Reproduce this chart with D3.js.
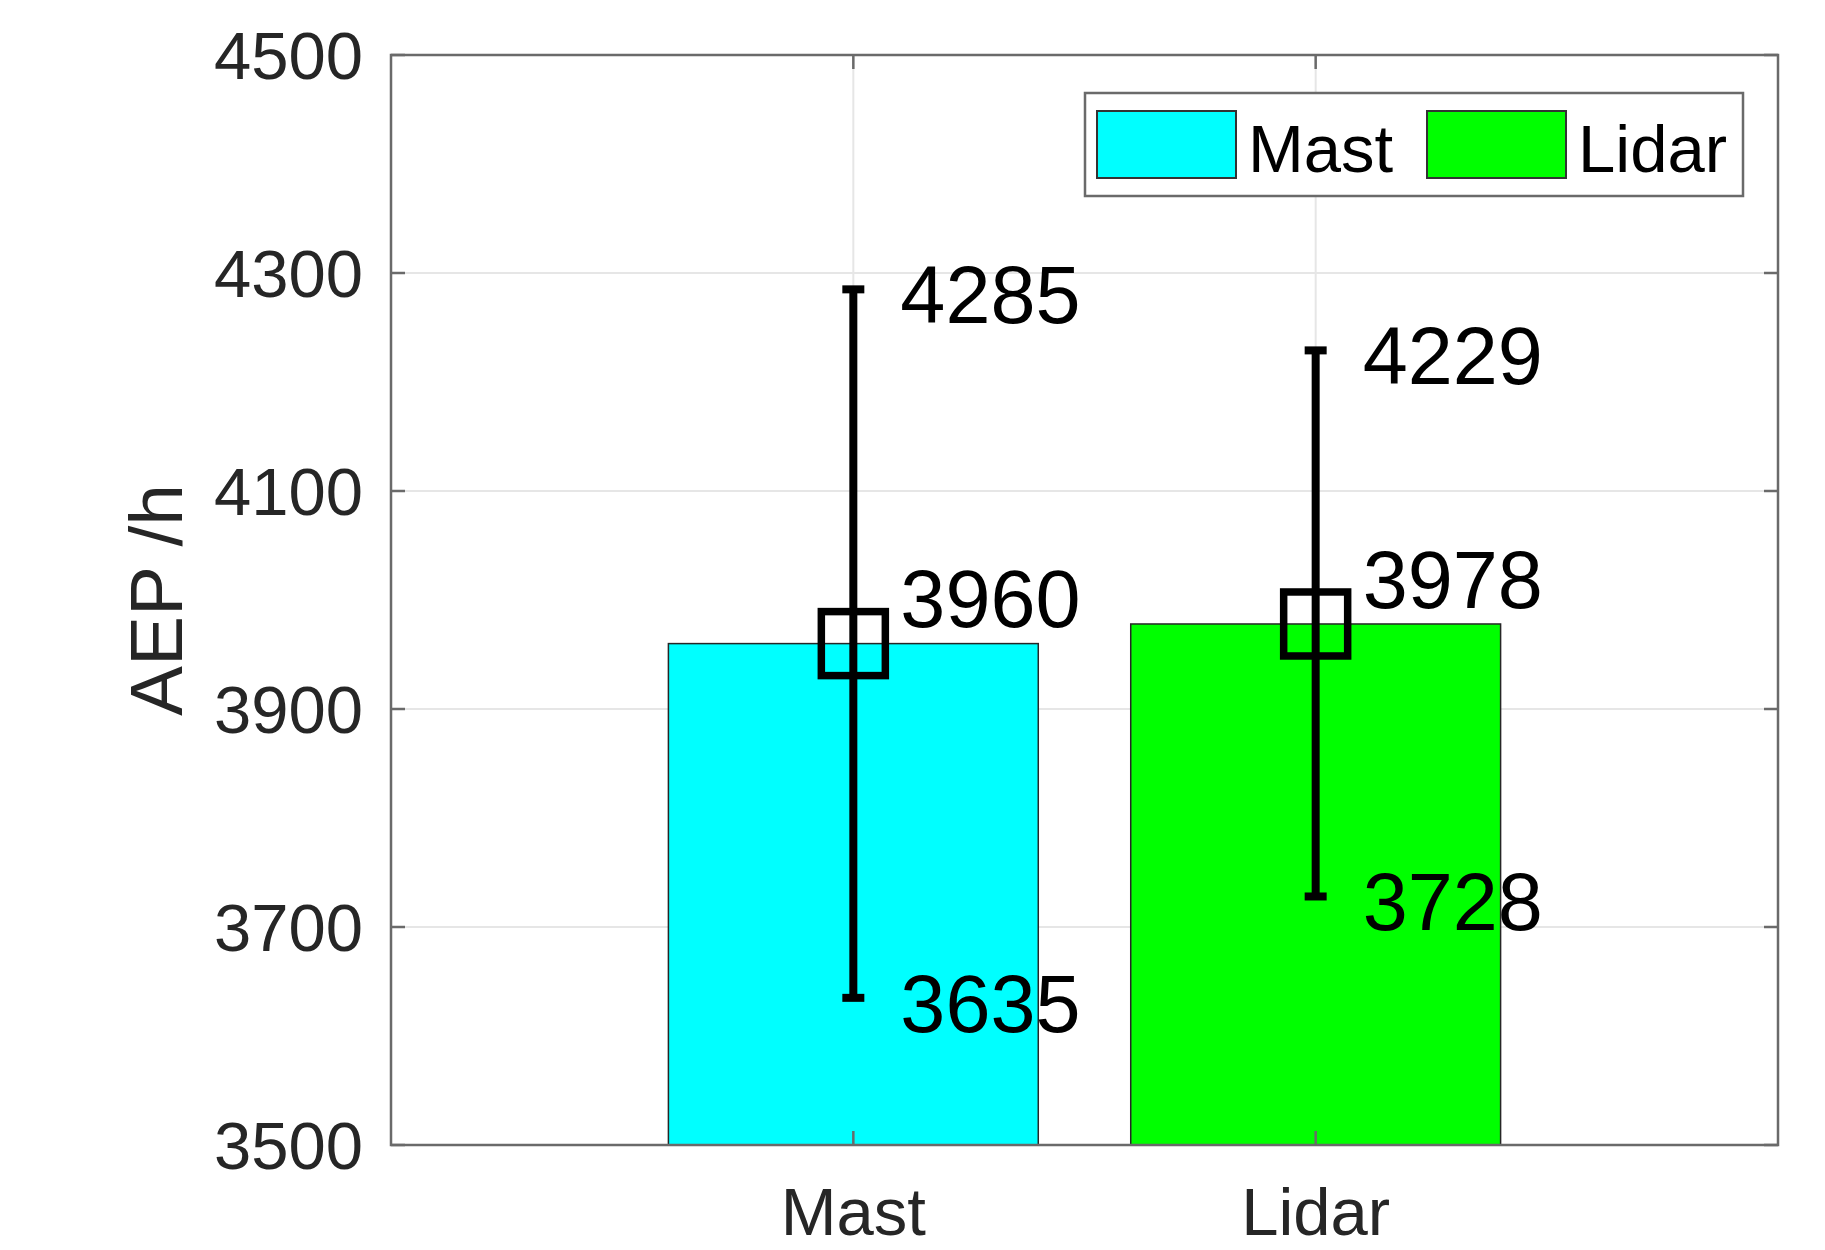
<!DOCTYPE html>
<html>
<head>
<meta charset="utf-8">
<script src="https://cdn.jsdelivr.net/npm/d3@7"></script>
<style>
  html, body { margin: 0; padding: 0; background: #fff; }
  text { font-family: "Liberation Sans", Arial, sans-serif; }
</style>
</head>
<body>
<div id="chart"></div>
<script>
// data
var categories = ['Mast', 'Lidar'];
var meanValues = [3960, 3978];
var lowValues = [3635, 3728];
var highValues = [4285, 4229];
var barColors = ['#00ffff', '#00ff00'];
var yTicks = [3500, 3700, 3900, 4100, 4300, 4500];

var W = 1825, H = 1250;
// plot box (window.top is reserved, so use own names)
var pLeft = 391, pRight = 1778, pTop = 55, pBottom = 1145;

var svg = d3.select('#chart').append('svg')
	.attr('width', W)
	.attr('height', H);

// matlab-ish categorical axis: bars at 1,2 with xlim [0,3]
var x = d3.scaleLinear().domain([0, categories.length + 1]).range([pLeft, pRight]);
var y = d3.scaleLinear().domain([3500, 4500]).range([pBottom, pTop]);
var barW = x(0.8) - x(0);

//------------------------------------------------------------------------------
// grid
var grid = svg.append('g')
	.attr('stroke', '#e6e6e6')
	.attr('stroke-width', 2);

grid.selectAll('.gy')
	.data(yTicks)
	.enter()
	.append('line')
	.attr('x1', pLeft).attr('x2', pRight)
	.attr('y1', function(d) { return y(d); })
	.attr('y2', function(d) { return y(d); });

grid.selectAll('.gx')
	.data(categories)
	.enter()
	.append('line')
	.attr('y1', pTop).attr('y2', pBottom)
	.attr('x1', function(d, i) { return x(i + 1); })
	.attr('x2', function(d, i) { return x(i + 1); });

//------------------------------------------------------------------------------
// bars
svg.append('g').selectAll('rect')
	.data(categories)
	.enter()
	.append('rect')
	.attr('x', function(d, i) { return x(i + 1) - barW / 2; })
	.attr('width', barW)
	.attr('y', function(d, i) { return y(meanValues[i]); })
	.attr('height', function(d, i) { return y(3500) - y(meanValues[i]); })
	.attr('fill', function(d, i) { return barColors[i]; })
	.attr('stroke', '#262626')
	.attr('stroke-width', 1.5);

//------------------------------------------------------------------------------
// axis box + ticks
var axisCol = '#6a6a6a';
svg.append('rect')
	.attr('x', pLeft).attr('y', pTop)
	.attr('width', pRight - pLeft).attr('height', pBottom - pTop)
	.attr('fill', 'none')
	.attr('stroke', axisCol)
	.attr('stroke-width', 2.5);

var tickLen = 14;
var ticks = svg.append('g').attr('stroke', axisCol).attr('stroke-width', 2.5);
yTicks.forEach(function(t) {
	ticks.append('line').attr('x1', pLeft).attr('x2', pLeft + tickLen).attr('y1', y(t)).attr('y2', y(t));
	ticks.append('line').attr('x1', pRight).attr('x2', pRight - tickLen).attr('y1', y(t)).attr('y2', y(t));
});
categories.forEach(function(c, i) {
	ticks.append('line').attr('x1', x(i + 1)).attr('x2', x(i + 1)).attr('y1', pBottom).attr('y2', pBottom - tickLen);
	ticks.append('line').attr('x1', x(i + 1)).attr('x2', x(i + 1)).attr('y1', pTop).attr('y2', pTop + tickLen);
});

svg.append('g').selectAll('text')
	.data(yTicks)
	.enter()
	.append('text')
	.attr('x', pLeft - 28)
	.attr('y', function(d) { return y(d) + 24; })
	.attr('text-anchor', 'end')
	.attr('fill', '#262626')
	.style('font-size', '67px')
	.text(function(d) { return d; });

svg.append('g').selectAll('text')
	.data(categories)
	.enter()
	.append('text')
	.attr('x', function(d, i) { return x(i + 1); })
	.attr('y', 1235)
	.attr('text-anchor', 'middle')
	.attr('fill', '#262626')
	.style('font-size', '67px')
	.text(function(d) { return d; });

svg.append('text')
	.attr('transform', 'translate(182,' + ((pTop + pBottom) / 2) + ') rotate(-90)')
	.attr('text-anchor', 'middle')
	.attr('fill', '#262626')
	.style('font-size', '75px')
	.text('AEP /h');

//------------------------------------------------------------------------------
// error bars + markers
var eb = svg.append('g').attr('stroke', '#000').attr('fill', 'none');
categories.forEach(function(c, i) {
	var cx = x(i + 1);
	eb.append('line')
		.attr('x1', cx).attr('x2', cx)
		.attr('y1', y(lowValues[i])).attr('y2', y(highValues[i]))
		.attr('stroke-width', 8);
	[lowValues[i], highValues[i]].forEach(function(v) {
		eb.append('line')
			.attr('x1', cx - 11).attr('x2', cx + 11)
			.attr('y1', y(v)).attr('y2', y(v))
			.attr('stroke-width', 8);
	});
	eb.append('rect')
		.attr('x', cx - 32).attr('y', y(meanValues[i]) - 32)
		.attr('width', 64).attr('height', 64)
		.attr('stroke-width', 7.5);
});

// value labels
var lbl = svg.append('g').attr('fill', '#000').style('font-size', '81px');
var meanLabelShift = 46; // data units, mean label sits above the marker
categories.forEach(function(c, i) {
	var tx = x(i + 1) + 47;
	lbl.append('text').attr('x', tx).attr('y', y(highValues[i]) + 34).text(highValues[i]);
	lbl.append('text').attr('x', tx).attr('y', y(lowValues[i]) + 34).text(lowValues[i]);
	lbl.append('text').attr('x', tx).attr('y', y(meanValues[i] + meanLabelShift) + 34).text(meanValues[i]);
});

//------------------------------------------------------------------------------
// legend
var lg = svg.append('g');
lg.append('rect')
	.attr('x', 1085).attr('y', 93)
	.attr('width', 1743 - 1085).attr('height', 196 - 93)
	.attr('fill', '#fff')
	.attr('stroke', axisCol)
	.attr('stroke-width', 2.5);

var legX = [1097, 1427];
categories.forEach(function(c, i) {
	lg.append('rect')
		.attr('x', legX[i]).attr('y', 111)
		.attr('width', 139).attr('height', 67)
		.attr('fill', barColors[i])
		.attr('stroke', '#333')
		.attr('stroke-width', 2);
	lg.append('text')
		.attr('x', legX[i] + 151)
		.attr('y', 172)
		.attr('fill', '#000')
		.style('font-size', '67px')
		.text(c);
});
</script>
</body>
</html>
